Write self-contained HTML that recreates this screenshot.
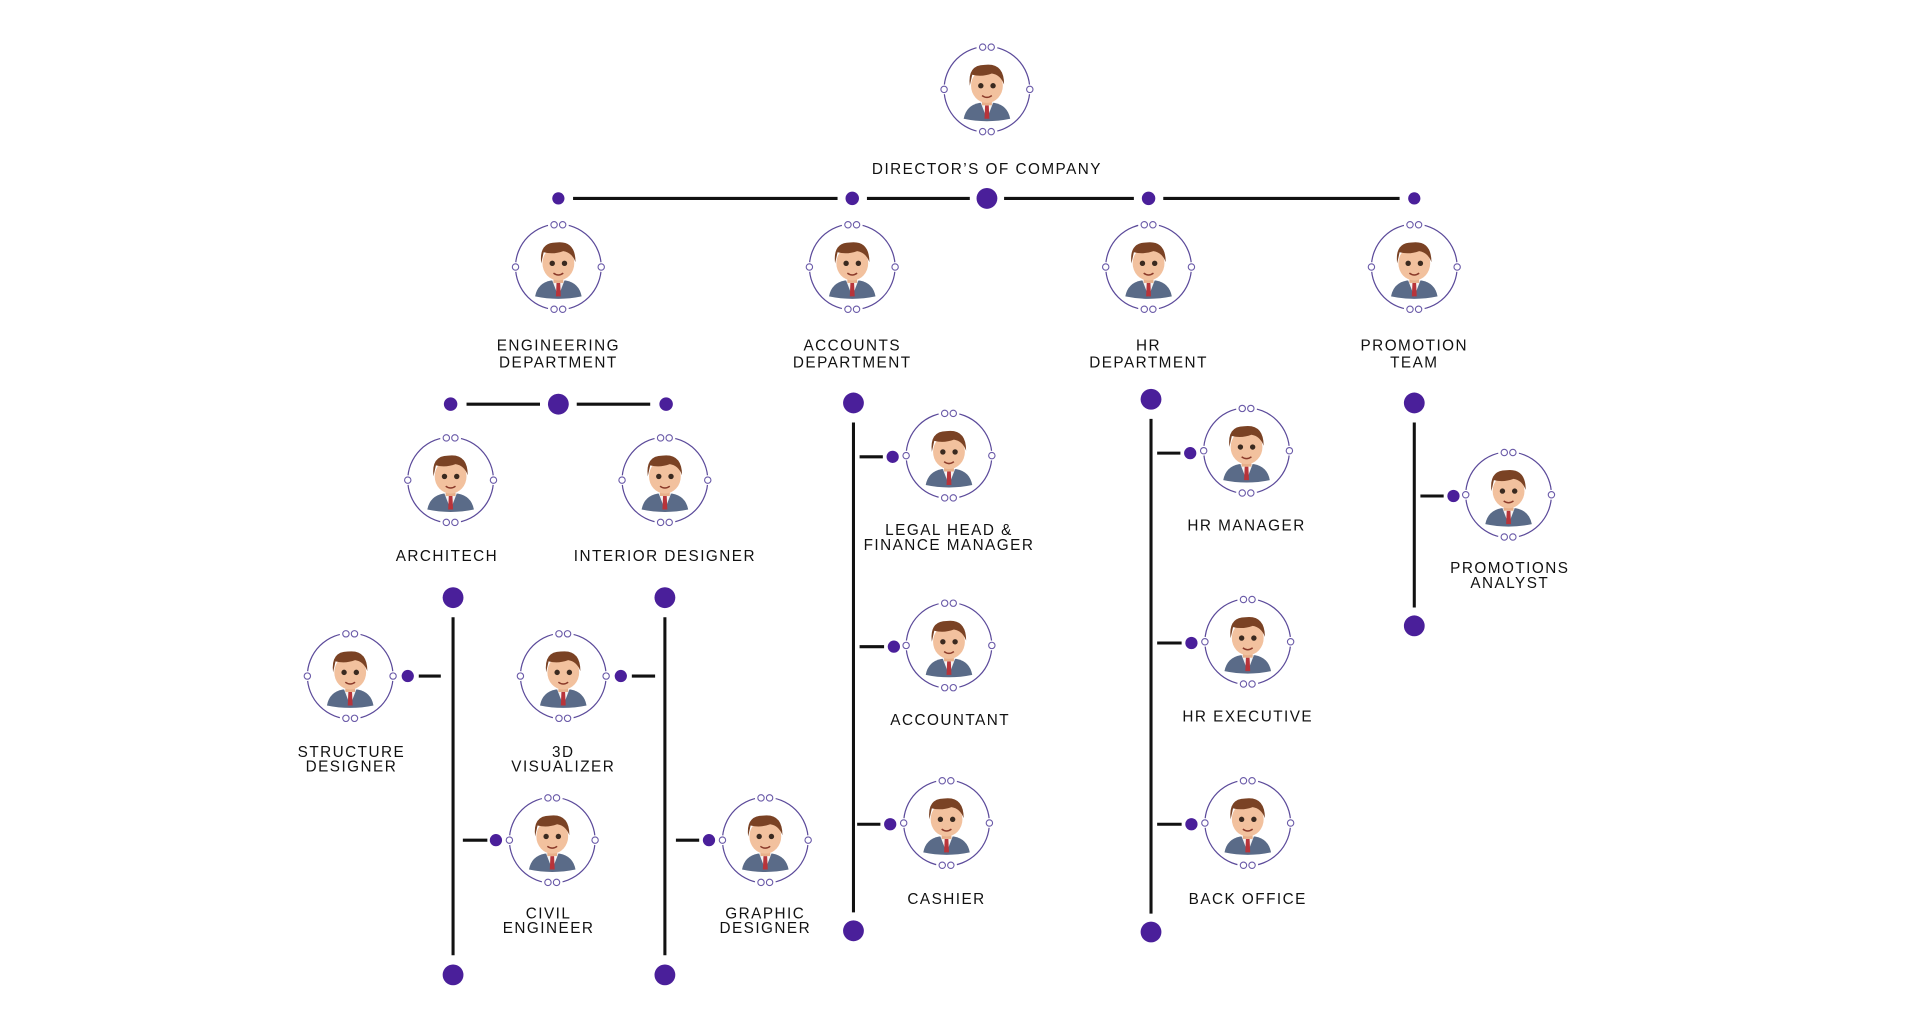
<!DOCTYPE html>
<html><head><meta charset="utf-8"><style>html,body{margin:0;padding:0;background:#fff}svg{display:block}</style></head>
<body>
<svg width="1920" height="1030" viewBox="0 0 1568 841" preserveAspectRatio="none" xmlns="http://www.w3.org/2000/svg">
<defs>
<g id="av">
<circle r="35" fill="none" stroke="#5b4a9a" stroke-width="1"/>
<circle cx="-3.5" cy="-34.5" r="5" fill="#fff"/><circle cx="3.5" cy="-34.5" r="5" fill="#fff"/>
<circle cx="-3.5" cy="34.5" r="5" fill="#fff"/><circle cx="3.5" cy="34.5" r="5" fill="#fff"/>
<circle cx="-35" cy="0" r="4" fill="#fff"/><circle cx="35" cy="0" r="4" fill="#fff"/>
<g fill="#fff" stroke="#6a5aa8" stroke-width="0.9">
<circle cx="-3.5" cy="-34.5" r="2.6"/><circle cx="3.5" cy="-34.5" r="2.6"/>
<circle cx="-3.5" cy="34.5" r="2.6"/><circle cx="3.5" cy="34.5" r="2.6"/>
<circle cx="-35" cy="0" r="2.6"/><circle cx="35" cy="0" r="2.6"/></g>
<path d="M-19 24 Q-17 13 -6 11 L6 11 Q17 13 19 24 Q0 28 -19 24Z" fill="#5a6b88"/>
<path d="M-5 11 L0 24 L5 11Z" fill="#f4f4f4"/>
<path d="M-1.5 13 L1.5 13 L2 24 L-2 24Z" fill="#b8343a"/>
<rect x="-4" y="5" width="8" height="8" fill="#e8b08a"/>
<ellipse cx="0" cy="-3" rx="13" ry="14" fill="#f2c19e"/>
<path d="M-14 -3 Q-16 -20 -2 -20 Q14 -22 14 -4 Q11 -12 4 -13 Q-4 -10 -12 -12 Z" fill="#7a4224"/>
<circle cx="-5" cy="-3" r="2.2" fill="#3a2a20"/><circle cx="5" cy="-3" r="2.2" fill="#3a2a20"/>
<path d="M-4 5 Q0 8 4 5" stroke="#8a3a2a" stroke-width="1.2" fill="none"/>
</g>
</defs>
<g stroke="#111" stroke-width="2.5">
<line x1="468" y1="162" x2="684" y2="162"/><line x1="708" y1="162" x2="792" y2="162"/>
<line x1="820" y1="162" x2="926" y2="162"/><line x1="950" y1="162" x2="1143" y2="162"/>
<line x1="381" y1="330" x2="441" y2="330"/><line x1="471" y1="330" x2="531" y2="330"/>
<line x1="370" y1="504" x2="370" y2="780"/><line x1="543" y1="504" x2="543" y2="780"/>
<line x1="697" y1="345" x2="697" y2="745"/><line x1="940" y1="342" x2="940" y2="746"/>
<line x1="1155" y1="345" x2="1155" y2="496"/>
<line x1="342" y1="552" x2="360" y2="552"/><line x1="378" y1="686" x2="398" y2="686"/>
<line x1="516" y1="552" x2="535" y2="552"/><line x1="552" y1="686" x2="571" y2="686"/>
<line x1="702" y1="373" x2="721" y2="373"/><line x1="702" y1="528" x2="722" y2="528"/><line x1="700" y1="673" x2="719" y2="673"/>
<line x1="945" y1="370" x2="964" y2="370"/><line x1="945" y1="525" x2="965" y2="525"/><line x1="945" y1="673" x2="965" y2="673"/>
<line x1="1160" y1="405" x2="1179" y2="405"/>
</g>
<g fill="#4a1f9a">
<circle cx="456" cy="162" r="5"/><circle cx="696" cy="162" r="5.5"/><circle cx="806" cy="162" r="8.5"/><circle cx="938" cy="162" r="5.5"/><circle cx="1155" cy="162" r="5"/>
<circle cx="368" cy="330" r="5.5"/><circle cx="456" cy="330" r="8.5"/><circle cx="544" cy="330" r="5.5"/>
<circle cx="370" cy="488" r="8.5"/><circle cx="370" cy="796" r="8.5"/><circle cx="543" cy="488" r="8.5"/><circle cx="543" cy="796" r="8.5"/>
<circle cx="697" cy="329" r="8.5"/><circle cx="697" cy="760" r="8.5"/><circle cx="940" cy="326" r="8.5"/><circle cx="940" cy="761" r="8.5"/>
<circle cx="1155" cy="329" r="8.5"/><circle cx="1155" cy="511" r="8.5"/>
<circle cx="333" cy="552" r="5"/><circle cx="405" cy="686" r="5"/><circle cx="507" cy="552" r="5"/><circle cx="579" cy="686" r="5"/>
<circle cx="729" cy="373" r="5"/><circle cx="730" cy="528" r="5"/><circle cx="727" cy="673" r="5"/>
<circle cx="972" cy="370" r="5"/><circle cx="973" cy="525" r="5"/><circle cx="973" cy="673" r="5"/><circle cx="1187" cy="405" r="5"/>
</g>
<use href="#av" x="806" y="73"/>
<use href="#av" x="456" y="218"/><use href="#av" x="696" y="218"/><use href="#av" x="938" y="218"/><use href="#av" x="1155" y="218"/>
<use href="#av" x="368" y="392"/><use href="#av" x="543" y="392"/>
<use href="#av" x="286" y="552"/><use href="#av" x="460" y="552"/><use href="#av" x="451" y="686"/><use href="#av" x="625" y="686"/>
<use href="#av" x="775" y="372"/><use href="#av" x="775" y="527"/><use href="#av" x="773" y="672"/>
<use href="#av" x="1018" y="368"/><use href="#av" x="1019" y="524"/><use href="#av" x="1019" y="672"/>
<use href="#av" x="1232" y="404"/>
<g font-family="Liberation Sans, sans-serif" font-size="12.5" letter-spacing="1.2" fill="#111" text-anchor="middle">
<text x="806" y="142">DIRECTOR’S OF COMPANY</text>
<text x="456" y="286">ENGINEERING</text><text x="456" y="300">DEPARTMENT</text>
<text x="696" y="286">ACCOUNTS</text><text x="696" y="300">DEPARTMENT</text>
<text x="938" y="286">HR</text><text x="938" y="300">DEPARTMENT</text>
<text x="1155" y="286">PROMOTION</text><text x="1155" y="300">TEAM</text>
<text x="365" y="458">ARCHITECH</text><text x="543" y="458">INTERIOR DESIGNER</text>
<text x="287" y="618">STRUCTURE</text><text x="287" y="630">DESIGNER</text>
<text x="460" y="618">3D</text><text x="460" y="630">VISUALIZER</text>
<text x="448" y="750">CIVIL</text><text x="448" y="762">ENGINEER</text>
<text x="625" y="750">GRAPHIC</text><text x="625" y="762">DESIGNER</text>
<text x="775" y="437">LEGAL HEAD &amp;</text><text x="775" y="449">FINANCE MANAGER</text>
<text x="776" y="592">ACCOUNTANT</text><text x="773" y="738">CASHIER</text>
<text x="1018" y="433">HR MANAGER</text><text x="1019" y="589">HR EXECUTIVE</text><text x="1019" y="738">BACK OFFICE</text>
<text x="1233" y="468">PROMOTIONS</text><text x="1233" y="480">ANALYST</text>
</g>
</svg>
</body></html>
